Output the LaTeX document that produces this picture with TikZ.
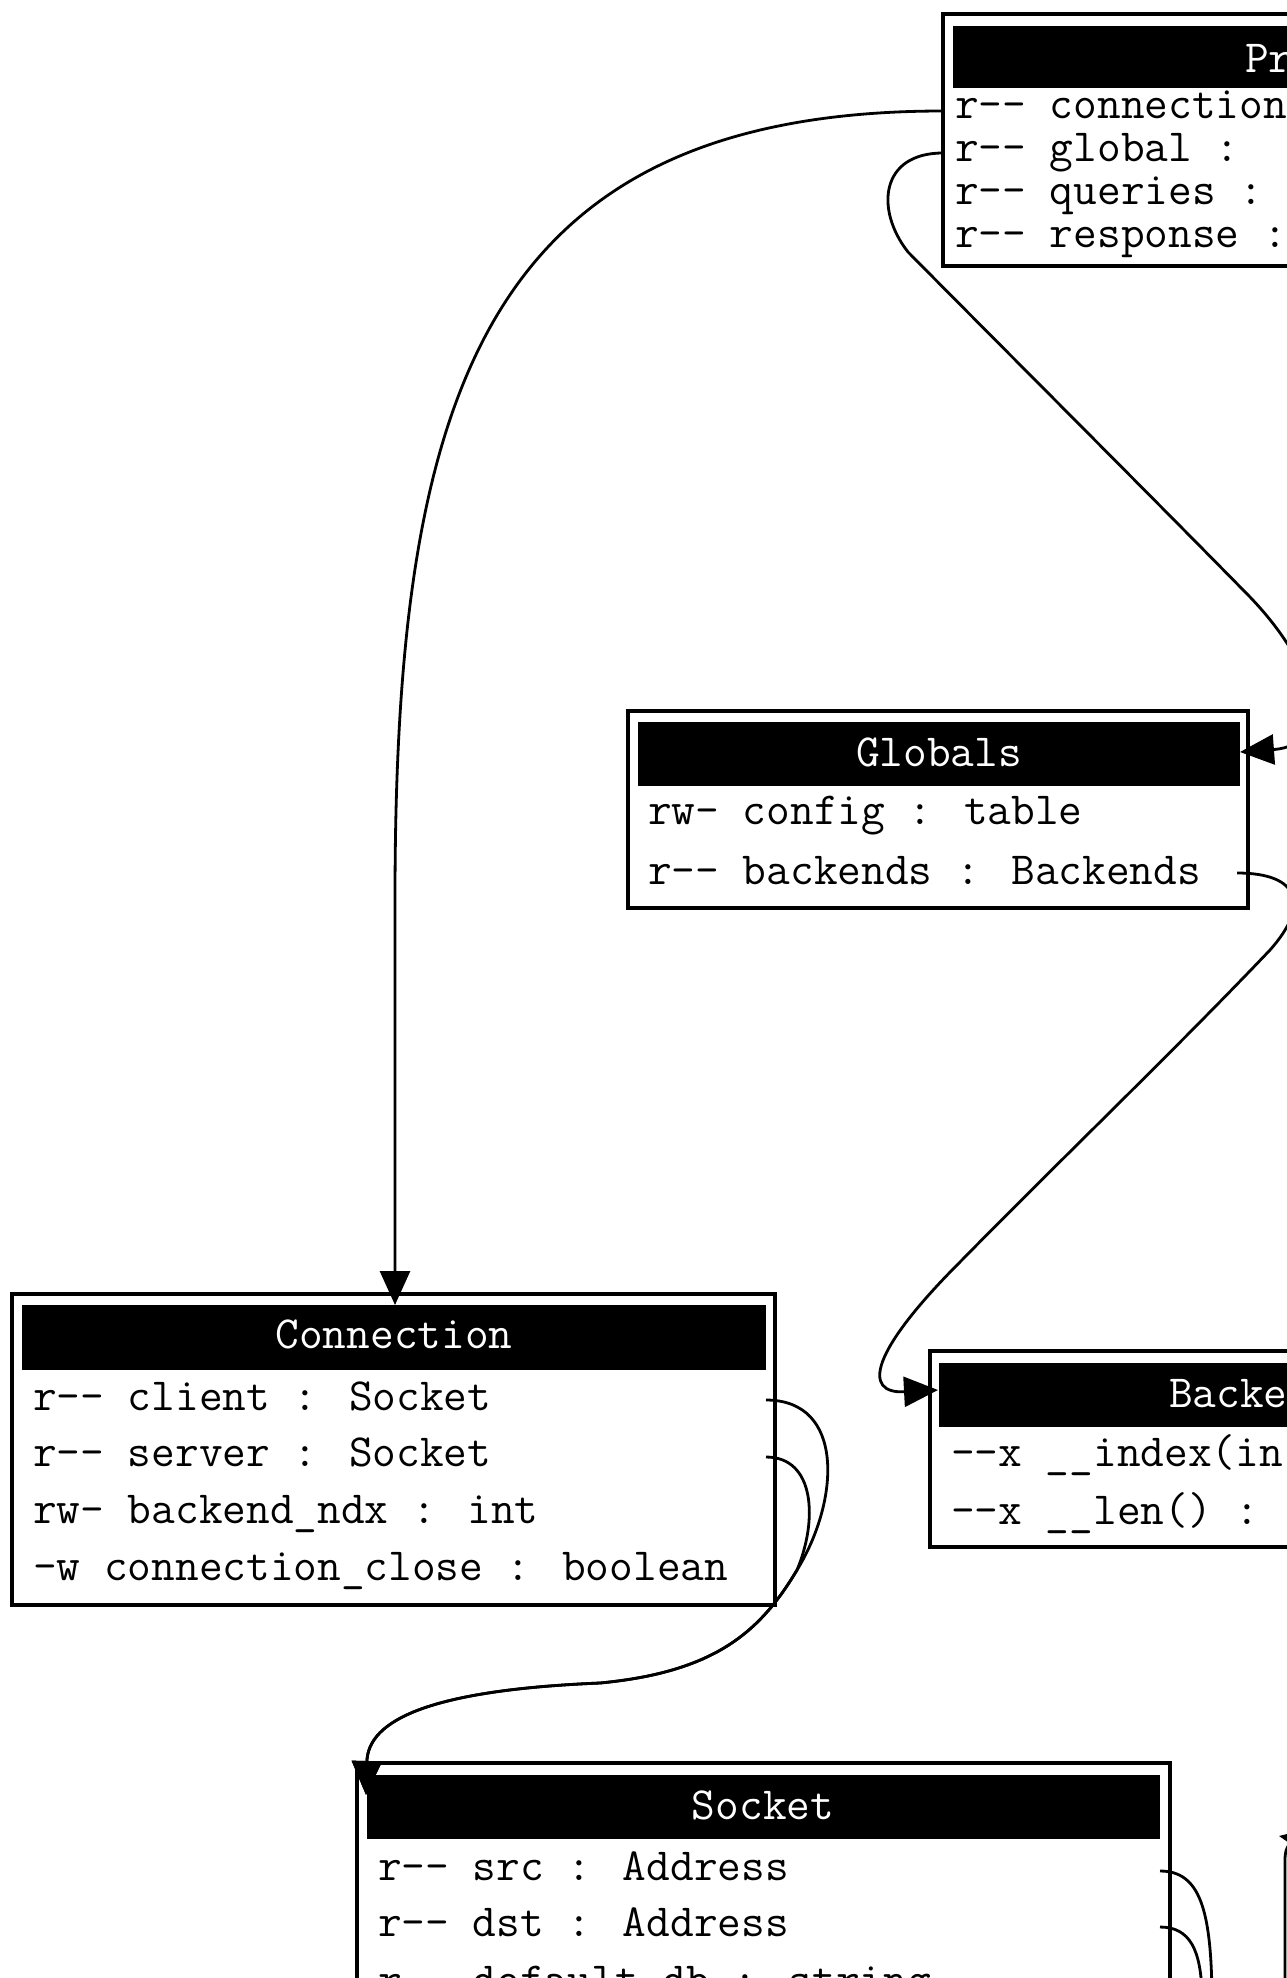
\documentclass[tikz,border=0pt]{standalone}
\usetikzlibrary{arrows.meta}
\begin{document}
\begin{tikzpicture}[x=1pt,y=-1pt,
  boxframe/.style={draw=black,line width=3.4pt,outer sep=0pt,inner sep=0pt,anchor=north west},
  hdr/.style={fill=black,draw=none,outer sep=0pt,inner sep=0pt,anchor=north west},
  ttl/.style={text=white,font=\ttfamily\fontsize{46}{50}\selectfont,inner sep=0pt,anchor=base},
  ttlw/.style={ttl,anchor=base west},
  rowtxt/.style={font=\ttfamily\fontsize{46}{50}\selectfont,inner sep=0pt,anchor=base west},
  link/.style={line width=2.8pt},
  arr/.style={link,-{Triangle[length=34pt,width=30pt]}}]
\useasboundingbox (0,0) rectangle (1287,1978);
\clip (0,0) rectangle (1287,1978);
\fill[white] (0,0) rectangle (1287,1978);

% ---------- Proxy (cut at right edge)
\node[boxframe,minimum width=500pt,minimum height=252pt] (proxy) at (943,14) {};
\node[hdr,minimum width=400pt,minimum height=62pt] (proxyh) at (953,26) {};
\node[ttlw] (proxyt) at (1245,72) {Pr};
\node[rowtxt] (p1) at (955,118) {r-- connection};
\node[rowtxt] (p2) at (955,161) {r-- global :};
\node[rowtxt] (p3) at (955,204) {r-- queries :};
\node[rowtxt] (p4) at (955,247) {r-- response :};
\coordinate (pconn) at (943,111);
\coordinate (pglob) at (943,153);

% ---------- Globals
\node[boxframe,minimum width=620pt,minimum height=197pt] (glob) at (628,711) {};
\node[hdr,minimum width=602pt,minimum height=64pt] (globh) at (638,722) {};
\node[ttl] (globt) at (939,766) {Globals};
\node[rowtxt] (g1) at (648,824) {rw- config : table};
\node[rowtxt] (g2) at (648,884) {r-- backends : Backends};
\coordinate (globin) at (1240,752);
\coordinate (globback) at (1237,873);

% ---------- Connection
\node[boxframe,minimum width=763pt,minimum height=311pt] (conn) at (12,1294) {};
\node[hdr,minimum width=744pt,minimum height=65pt] (connh) at (22,1305) {};
\node[ttl] (connt) at (394,1348) {Connection};
\node[rowtxt] (c1) at (33,1410) {r-- client : Socket};
\node[rowtxt] (c2) at (33,1466) {r-- server : Socket};
\node[rowtxt] (c3) at (33,1523) {rw- backend\_ndx : int};
\node[rowtxt] (c4) at (33,1580) {-w connection\_close : boolean};
\coordinate (connin) at (395,1305);
\coordinate (cclient) at (766,1400);
\coordinate (cserver) at (766,1457);

% ---------- Backends (cut at right edge)
\node[boxframe,minimum width=500pt,minimum height=196pt] (back) at (930,1351) {};
\node[hdr,minimum width=400pt,minimum height=64pt] (backh) at (939,1363) {};
\node[ttlw] (backt) at (1169,1407) {Backe};
\node[rowtxt] (b1) at (951,1466) {--x \_\_index(in};
\node[rowtxt] (b2) at (951,1524) {--x \_\_len() :};
\coordinate (backin) at (938,1390);

% ---------- Socket (cut at bottom edge)
\node[boxframe,minimum width=813pt,minimum height=400pt] (sock) at (357,1763) {};
\node[hdr,minimum width=793pt,minimum height=64pt] (sockh) at (367,1775) {};
\node[ttl] (sockt) at (763,1819) {Socket};
\node[rowtxt] (s1) at (378,1880) {r-- src : Address};
\node[rowtxt] (s2) at (378,1936) {r-- dst : Address};
\node[rowtxt] (s3) at (378,1994) {r-- default\_db : string};
\coordinate (sockin) at (366,1795);
\coordinate (ssrc) at (1160,1871);
\coordinate (sdst) at (1160,1927);
\coordinate (srcout) at (1212,1995);
\coordinate (dstout) at (1202,1995);

% ---------- far-right edge (into a box off the picture)
\coordinate (rbot) at (1285,1995);
\coordinate (rtip) at (1279,1836);

% ---------- connectors
\draw[arr] (pconn) .. controls (480,111) and (395,400) .. (395,900) -- (connin);
\draw[arr] (pglob) .. controls (880,153) and (875,210) .. (908,252)
  .. controls (1000,345) and (1150,495) .. (1250,597)
  .. controls (1320,670) and (1335,745) .. (globin);
\draw[arr] (globback) .. controls (1300,873) and (1310,905) .. (1270,950)
  .. controls (1170,1055) and (1060,1160) .. (960,1262)
  .. controls (870,1352) and (862,1394) .. (backin);
\draw[arr] (cclient) .. controls (845,1400) and (840,1500) .. (797,1570)
  .. controls (760,1632) and (715,1672) .. (600,1683)
  .. controls (430,1690) and (368,1720) .. (sockin);
\draw[arr] (cserver) .. controls (815,1457) and (818,1520) .. (797,1570)
  .. controls (760,1632) and (715,1672) .. (600,1683)
  .. controls (430,1690) and (368,1720) .. (sockin);
\draw[link] (ssrc) .. controls (1200,1871) and (1211,1910) .. (srcout);
\draw[link] (sdst) .. controls (1190,1927) and (1201,1950) .. (dstout);
\draw[arr] (rbot) -- (1285,1860) .. controls (1285,1845) and (1290,1838) .. (rtip);
\end{tikzpicture}
\end{document}
